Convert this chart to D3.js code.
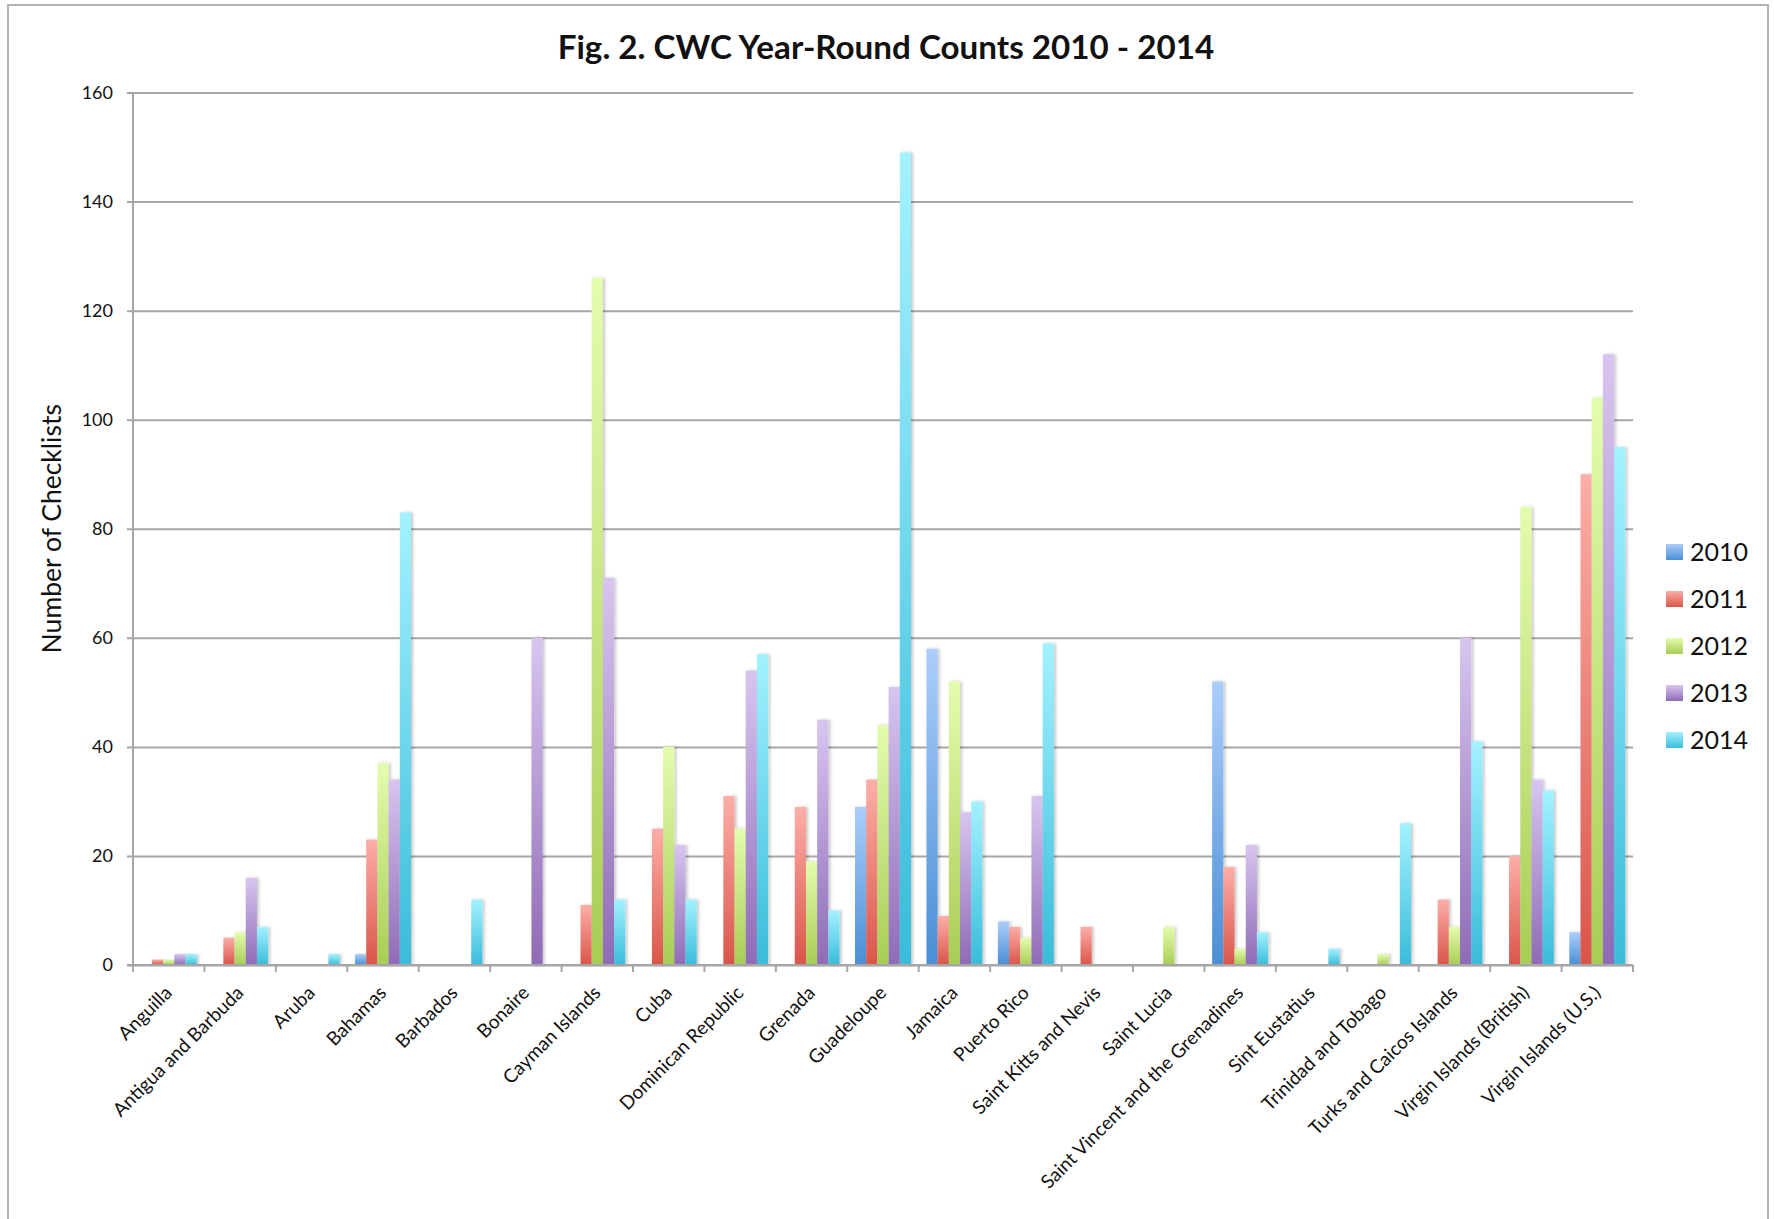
<!DOCTYPE html>
<html>
<head>
<meta charset="utf-8">
<script src="https://cdn.jsdelivr.net/npm/d3@7"></script>
<style>
  html, body { margin: 0; padding: 0; background: #fff; }
  svg { display: block; }
  text { font-family: Lato, "Open Sans", sans-serif; fill: #111; }
</style>
</head>
<body>
<svg id="chart" width="1774" height="1219"></svg>
<script>
// Countries on the x axis
const categories = [
  "Anguilla", "Antigua and Barbuda", "Aruba", "Bahamas", "Barbados", "Bonaire",
  "Cayman Islands", "Cuba", "Dominican Republic", "Grenada", "Guadeloupe",
  "Jamaica", "Puerto Rico", "Saint Kitts and Nevis", "Saint Lucia",
  "Saint Vincent and the Grenadines", "Sint Eustatius", "Trinidad and Tobago",
  "Turks and Caicos Islands", "Virgin Islands (British)", "Virgin Islands (U.S.)"
];

// Series (one per year)
const years = ["2010", "2011", "2012", "2013", "2014"];

// Number of checklists per country, one array per year
const counts2010 = [0, 0, 0, 2, 0, 0, 0, 0, 0, 0, 29, 58, 8, 0, 0, 52, 0, 0, 0, 0, 6];
const counts2011 = [1, 5, 0, 23, 0, 0, 11, 25, 31, 29, 34, 9, 7, 7, 0, 18, 0, 0, 12, 20, 90];
const counts2012 = [1, 6, 0, 37, 0, 0, 126, 40, 25, 19, 44, 52, 5, 0, 7, 3, 0, 2, 7, 84, 104];
const counts2013 = [2, 16, 0, 34, 0, 60, 71, 22, 54, 45, 51, 28, 31, 0, 0, 22, 0, 0, 60, 34, 112];
const counts2014 = [2, 7, 2, 83, 12, 0, 12, 12, 57, 10, 149, 30, 59, 0, 0, 6, 3, 26, 41, 32, 95];

// Y axis tick values
const yTicks = [0, 20, 40, 60, 80, 100, 120, 140, 160];

const seriesValues = [counts2010, counts2011, counts2012, counts2013, counts2014];

// Gradient stops per year: light at the top, saturated at the bottom
const palette = {
  "2010": ["#abcefb", "#4a8ed5"],
  "2011": ["#fdaea8", "#da5549"],
  "2012": ["#e4fcae", "#a8cd55"],
  "2013": ["#d7c5f0", "#8f6bb6"],
  "2014": ["#a3f2ff", "#39bcda"]
};

const svg = d3.select("#chart");
const defs = svg.append("defs");

years.forEach(y => {
  const g = defs.append("linearGradient")
    .attr("id", "grad" + y)
    .attr("x1", 0).attr("y1", 0).attr("x2", 0).attr("y2", 1);
  g.append("stop").attr("offset", "0%").attr("stop-color", palette[y][0]);
  g.append("stop").attr("offset", "100%").attr("stop-color", palette[y][1]);
});

const shadow = defs.append("filter")
  .attr("id", "barShadow")
  .attr("x", "-30%").attr("y", "-5%").attr("width", "180%").attr("height", "110%");
shadow.append("feDropShadow")
  .attr("dx", 2).attr("dy", 0).attr("stdDeviation", 1.6)
  .attr("flood-color", "#000").attr("flood-opacity", 0.22);

// Outer chart frame
svg.append("rect")
  .attr("x", 8).attr("y", 5).attr("width", 1760).attr("height", 1240)
  .attr("fill", "none").attr("stroke", "#b4b4b4").attr("stroke-width", 2);

const plot = { left: 133, right: 1633, top: 92.5, bottom: 965 };

const x = d3.scaleBand()
  .domain(categories)
  .range([plot.left, plot.right])
  .paddingInner(0).paddingOuter(0);

const xInner = d3.scaleBand()
  .domain(years)
  .range([0, x.bandwidth()])
  .paddingInner(0).paddingOuter(0.69);

const yScale = d3.scaleLinear()
  .domain([0, 160])
  .range([plot.bottom, plot.top]);

// Title
svg.append("text")
  .attr("x", 886).attr("y", 59)
  .attr("text-anchor", "middle")
  .style("font-weight", "bold")
  .style("font-size", "33.2px")
  .text("Fig. 2. CWC Year-Round Counts 2010 - 2014");

// Horizontal gridlines and y axis
const yAxis = d3.axisLeft(yScale)
  .tickValues(yTicks)
  .tickSize(-(plot.right - plot.left))
  .tickSizeOuter(0)
  .tickPadding(20)
  .tickFormat(d3.format("d"));

const yAxisG = svg.append("g")
  .attr("transform", `translate(${plot.left},0)`)
  .call(yAxis);
yAxisG.select(".domain").remove();
yAxisG.selectAll(".tick line")
  .attr("x1", -6)
  .attr("stroke", "#a6a6a6").attr("stroke-width", 2);
yAxisG.selectAll(".tick text")
  .style("font-size", "18px")
  .attr("fill", "#111")
  .attr("x", -20);

svg.append("line")
  .attr("x1", plot.left).attr("x2", plot.left)
  .attr("y1", plot.top).attr("y2", plot.bottom)
  .attr("stroke", "#a6a6a6").attr("stroke-width", 2);

// Y axis title
svg.append("text")
  .attr("transform", `translate(61,${(plot.top + plot.bottom) / 2}) rotate(-90)`)
  .attr("text-anchor", "middle")
  .style("font-size", "26.5px")
  .text("Number of Checklists");

// Bars
const groups = svg.append("g").selectAll("g")
  .data(categories)
  .join("g")
  .attr("transform", d => `translate(${x(d)},0)`);

groups.selectAll("rect")
  .data((c, i) => years.map((y, s) => ({ year: y, value: seriesValues[s][i] })))
  .join("rect")
  .filter(d => d.value > 0)
  .attr("x", d => xInner(d.year))
  .attr("width", xInner.bandwidth())
  .attr("y", d => yScale(d.value))
  .attr("height", d => yScale(0) - yScale(d.value))
  .attr("fill", d => `url(#grad${d.year})`)
  .attr("filter", "url(#barShadow)");

// X axis with category boundary ticks
const xAxisG = svg.append("g")
  .attr("transform", `translate(0,${plot.bottom})`);
xAxisG.append("line")
  .attr("x1", plot.left - 6).attr("x2", plot.right)
  .attr("stroke", "#a6a6a6").attr("stroke-width", 2);
const boundaries = categories.map(c => x(c)).concat([plot.right]);
xAxisG.selectAll("line.tick")
  .data(boundaries)
  .join("line")
  .attr("class", "tick")
  .attr("x1", d => d).attr("x2", d => d)
  .attr("y1", 0).attr("y2", 7)
  .attr("stroke", "#a6a6a6").attr("stroke-width", 2);

xAxisG.selectAll("text.cat")
  .data(categories)
  .join("text")
  .attr("class", "cat")
  .attr("text-anchor", "end")
  .style("font-size", "19px")
  .attr("transform", d => `translate(${x(d) + x.bandwidth() / 2 + 4.5},${29}) rotate(-45)`)
  .text(d => d);

// Legend
const legend = svg.append("g").attr("transform", "translate(1666,552)");
const items = legend.selectAll("g")
  .data(years)
  .join("g")
  .attr("transform", (d, i) => `translate(0,${i * 47})`);
items.append("rect")
  .attr("x", 0).attr("y", -8)
  .attr("width", 17).attr("height", 16)
  .attr("fill", d => `url(#grad${d})`);
items.append("text")
  .attr("x", 24).attr("y", 0)
  .attr("dy", "0.36em")
  .style("font-size", "25px")
  .text(d => d);
</script>
</body>
</html>
